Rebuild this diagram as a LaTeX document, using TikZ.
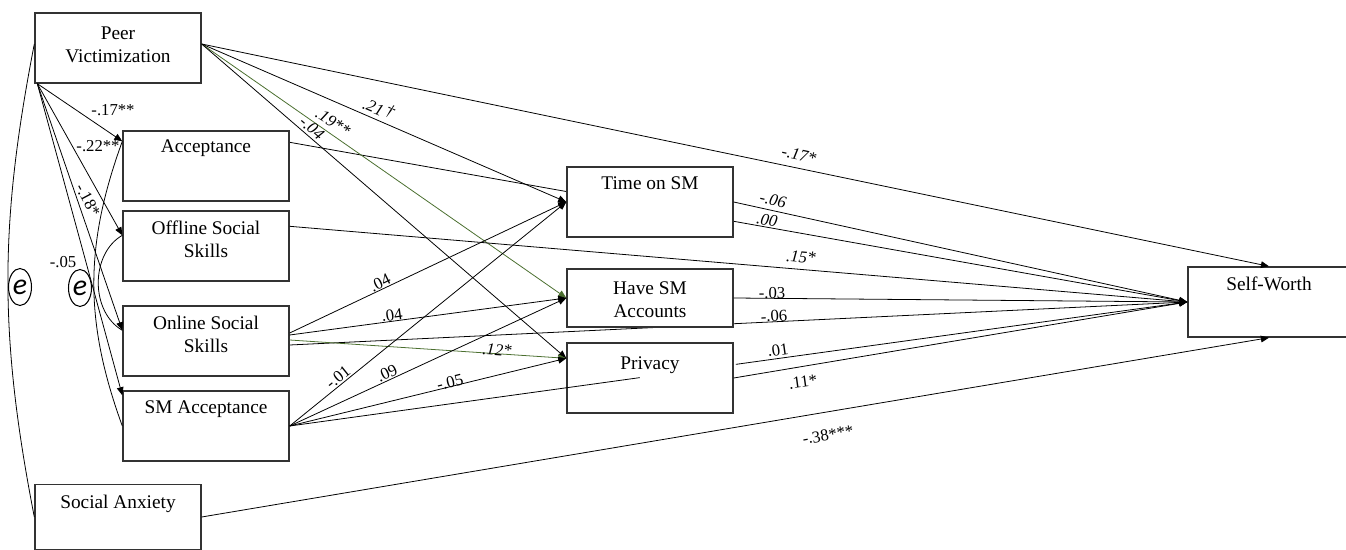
\documentclass[tikz,border=0pt]{standalone}
\usepackage{fontspec}
\setmainfont{Liberation Serif}
\newfontfamily\errfont{Carlito}
\usetikzlibrary{arrows.meta, calc, shapes.geometric, backgrounds}

\definecolor{pathgreen}{RGB}{74,110,46}
\definecolor{boxgray}{RGB}{51,51,51}

\tikzset{
	varbox/.style={draw=boxgray, line width=0.8pt, fill=white, minimum width=3.32cm,
		minimum height=1.4cm, inner sep=0pt},
	varname/.style={anchor=north, align=center, inner sep=0pt, yshift=-6pt,
		font=\fontsize{11}{13}\selectfont},
	link/.style={->, line width=0.45pt},
	covar/.style={line width=0.45pt},
	coef/.style={inner sep=0.5pt, font=\fontsize{9.5}{11}\selectfont},
	errterm/.style={draw, ellipse, fill=white, line width=0.6pt, minimum width=0.46cm,
		minimum height=0.74cm, inner sep=0pt, font=\errfont\itshape\fontsize{17}{17}\selectfont}
}

\begin{document}
\begin{tikzpicture}[x=0.02cm, y=-0.02cm, >={Triangle[length=4.6pt, width=3.8pt]}]
	\useasboundingbox (0,0) rectangle (1346,550);

	% predictors and mediators
	\node[varbox, label={[varname, yshift=-2pt]north:{Peer\\Victimization}}] (pv) at (118,48) {};
	\node[varbox, label={[varname, yshift=1pt]north:Acceptance}] (acc) at (206,166) {};
	\node[varbox, label={[varname]north:{Offline Social\\Skills}}] (off) at (206,246) {};
	\node[varbox, label={[varname]north:{Online Social\\Skills}}] (onl) at (206,341) {};
	\node[varbox, label={[varname]north:SM Acceptance}] (sma) at (206,426) {};
	\node[varbox, minimum height=1.3cm, label={[varname]north:Social Anxiety}] (sa) at (118,517) {};
	% social media use
	\node[varbox, label={[varname]north:Time on SM}] (tsm) at (650,202) {};
	\node[varbox, minimum height=1.16cm, label={[varname, yshift=-1.5pt]north:{Have SM\\Accounts}}] (hsa) at (650,298) {};
	\node[varbox, label={[varname, yshift=-2pt]north:Privacy}] (prv) at (650,378) {};
	% outcome
	\node[varbox, minimum width=3.24cm, label={[varname]north:Self-Worth}] (sw) at (1269,302) {};

	% ports on the box sides
	\coordinate (pvE) at ($(pv.east)+(0,-4)$);
	\coordinate (pvS) at ($(pv.south west)+(3,0)$);
	\coordinate (accIn) at ($(acc.north west)+(0,11)$);
	\coordinate (offIn) at ($(off.north west)+(0,25)$);
	\coordinate (onlIn) at ($(onl.north west)+(0,25)$);
	\coordinate (smaIn) at ($(sma.north west)+(0,5)$);
	\coordinate (prvIn) at ($(prv.north west)+(0,16)$);
	\coordinate (accOut) at ($(acc.north east)+(0,12)$);
	\coordinate (offOut) at ($(off.north east)+(0,16)$);
	\coordinate (onlA) at ($(onl.east)+(0,-8)$);
	\coordinate (onlB) at ($(onl.east)+(0,-6)$);
	\coordinate (onlC) at ($(onl.east)+(0,-1)$);
	\coordinate (onlD) at ($(onl.east)+(0,4)$);
	\coordinate (smaCut) at ($(sma.east)!.39!(sw.west)$);
	\coordinate (smaBack) at ($(sma.east)!.497!(sw.west)$);

	% peer victimization paths
	\foreach \m in {accIn, offIn, onlIn, smaIn}
		\draw[link] (pvS) -- (\m);
	\draw[link] (pvE) -- (tsm.west);
	\draw[link, pathgreen] (pvE) -- (hsa.west);
	\draw[link] (pvE) -- (prvIn);
	\draw[link] (pvE) -- (sw.north);

	% skills and acceptance into SM use
	\draw[link] (onlA) -- (tsm.west);
	\draw[link] (onlB) -- (hsa.west);
	\draw[link, pathgreen] (onlC) -- (prvIn);
	\draw[link] (sma.east) -- (tsm.west);
	\draw[link] (sma.east) -- (hsa.west);
	\draw[link] (sma.east) -- (prvIn);

	% everything into self-worth; two paths run under the boxes
	\begin{pgfonlayer}{background}
		\draw[link] (accOut) -- (sw.west);
		\draw[link] (onlD) -- (sw.west);
	\end{pgfonlayer}
	\draw[link] (offOut) -- (sw.west);
	\draw[link] (tsm.east) -- (sw.west);
	\draw[link] (hsa.east) -- (sw.west);
	\draw[link] (prv.east) -- (sw.west);
	\draw[covar] (sma.east) -- (smaCut);
	\draw[link] (smaBack) -- (sw.west);
	\draw[link] (sa.east) -- (sw.south);

	% correlated errors
	\draw[covar] ($(pv.west)+(0,-4)$) to[bend right=11] (sa.west);
	\draw[covar] (accIn) to[bend right=20] (sma.west);
	\draw[covar] (offIn) to[bend right=60] (onlIn);
	\node[errterm] (e1) at (20,287) {e};
	\node[errterm] (e2) at (80,288) {e};

	% coefficients
	\foreach \px/\py/\ang/\val [count=\i] in {113/110/0/-.17**, 98/146/0/-.22**,
			88/200/-62/-.18*, 63/262/0/-.05, 380/283/26/.04, 392/315/8/.04,
			338/377/39/-.01, 387/373/25/.09, 450/382/14/-.05, 772/293/0/-.03,
			774/316/3/-.06, 778/350/8/.01, 803/382/8/.11*, 828/435/10/-.38***}
		\node[coef, rotate=\ang] (b\i) at (\px,\py) {\val};
	\foreach \px/\py/\ang/\val [count=\i] in {379/108/-23/{.21\,\raisebox{1.5pt}{\textdagger}},
			333/122/-33/.19**, 312/128/-41/-.04, 799/155/-12/-.17*, 773/200/-13/-.06,
			767/220/-10/.00, 801/257/-5/.15*, 497/350/-4/.12*}
		\node[coef, rotate=\ang, font=\fontsize{9.5}{11}\selectfont\itshape] (bi\i) at (\px,\py) {\val};
\end{tikzpicture}
\end{document}
